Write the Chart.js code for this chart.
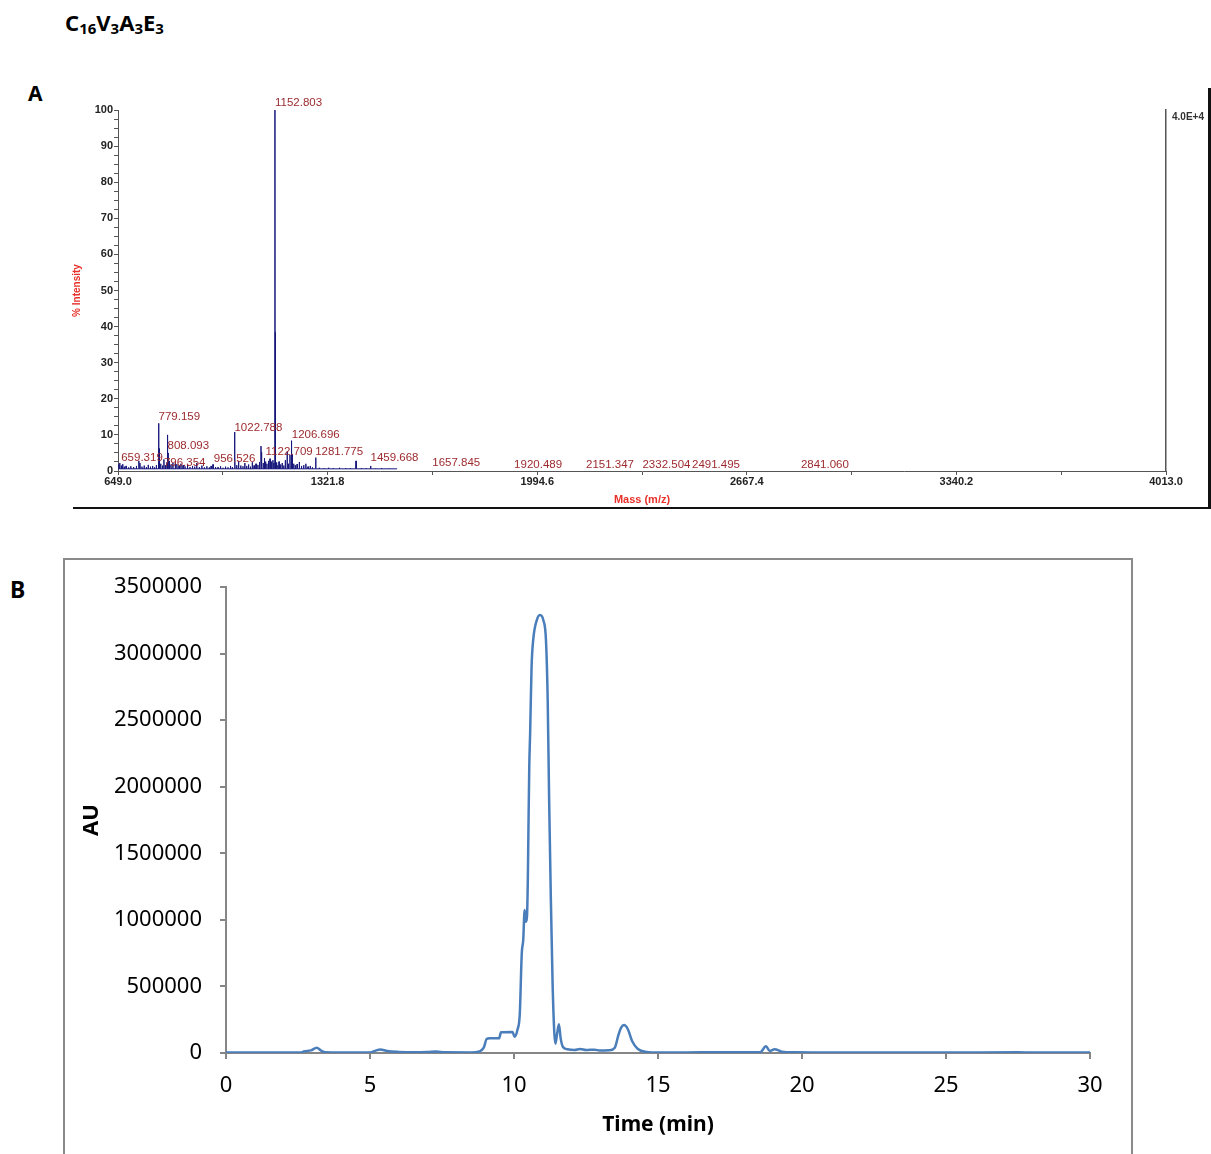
<!DOCTYPE html>
<html><head><meta charset="utf-8">
<script src="https://cdn.jsdelivr.net/npm/chart.js@4.4.1/dist/chart.umd.min.js"></script>
<style>
html,body{margin:0;padding:0;background:#fff;}
body{width:1211px;height:1154px;position:relative;overflow:hidden;font-family:'Noto Sans',sans-serif;}
.lbl{position:absolute;font-weight:bold;color:#000;line-height:1;white-space:nowrap;}
#title{left:65px;top:11px;font-size:22px;}
#title sub{font-size:15px;vertical-align:-3px;line-height:1;}
#labA{left:28px;top:83px;font-size:21px;}
#labB{left:10px;top:578px;font-size:23px;}
canvas{position:absolute;left:0;}
#cA{top:0;}
#cB{top:540px;}
.ln{position:absolute;}
</style>
</head><body>
<div class="lbl" id="title">C<sub>16</sub>V<sub>3</sub>A<sub>3</sub>E<sub>3</sub></div>
<div class="lbl" id="labA">A</div>
<div class="lbl" id="labB">B</div>
<canvas id="cA" width="1211" height="520"></canvas>
<canvas id="cB" width="1211" height="614"></canvas>
<div class="ln" style="left:73px;top:507px;width:1138px;height:2px;background:#111;"></div>
<div class="ln" style="left:1208px;top:88px;width:3px;height:421px;background:#111;"></div>
<div class="ln" style="left:63px;top:558px;width:1066px;height:620px;border:2px solid #8a8a8a;"></div>
<script>
// ---------- Panel A: MALDI mass spectrum ----------
const massTickLabels = ['649.0', '1321.8', '1994.6', '2667.4', '3340.2', '4013.0'];
const massTickValues = [649.0, 1321.8, 1994.6, 2667.4, 3340.2, 4013.0];
const intensityTicks = [0, 10, 20, 30, 40, 50, 60, 70, 80, 90, 100];

const peakMz = [652, 655, 660, 664, 669, 675, 683, 690, 699, 708, 716, 719.6, 726, 733, 740, 746, 753, 760, 766, 772,
  779.159, 781, 786, 792, 796.354, 801, 806, 808.093, 810, 814, 819, 825, 833, 838, 845, 851, 858, 864, 872, 880,
  888, 895, 901.6, 910, 918, 926, 934, 942, 948, 954, 962, 970, 978, 986, 994, 1002, 1010, 1016, 1022.788, 1024.5,
  1030, 1036, 1043, 1050, 1056, 1062, 1068, 1074, 1080, 1086, 1092, 1098, 1103, 1108, 1110, 1115, 1119, 1122.709,
  1127, 1132, 1137, 1141, 1146, 1149, 1152.803, 1154.2, 1158, 1162, 1166, 1171, 1176, 1181, 1186, 1192, 1196, 1201,
  1205, 1206.696, 1208.6, 1213, 1218, 1224, 1231, 1238, 1245, 1252, 1259, 1266, 1273, 1283.7, 1295, 1310, 1325,
  1340, 1360, 1380, 1395, 1413, 1430, 1445, 1460, 1475, 1495, 1520];
const peakInt = [1.8, 2.2, 1.5, 1.9, 1.2, 1.4, 1.0, 1.3, 1.1, 1.4, 2.8, 2.2, 1.2, 1.5, 1.1, 1.7, 1.2, 1.4, 1.0, 1.6,
  13.2, 6.2, 2.0, 1.5, 3.2, 1.6, 2.4, 10.0, 5.0, 2.8, 1.8, 2.2, 2.6, 1.9, 1.5, 2.0, 1.6, 1.3, 1.7, 1.1,
  1.4, 1.2, 2.2, 1.1, 1.5, 1.0, 1.3, 1.0, 1.4, 1.8, 1.1, 1.0, 1.3, 0.9, 1.2, 1.0, 1.4, 1.1, 10.8, 4.0,
  1.6, 2.8, 1.5, 1.3, 2.2, 1.4, 1.8, 1.2, 2.4, 1.5, 2.0, 1.7, 2.5, 6.9, 5.2, 2.2, 3.6, 2.6,
  2.0, 2.8, 3.4, 2.6, 3.0, 2.2, 100, 38.4, 2.4, 1.6, 2.6, 1.8, 2.2, 1.5, 3.0, 5.4, 2.0, 4.5,
  3.0, 8.4, 4.6, 2.0, 1.6, 1.9, 2.5, 1.4, 1.6, 2.0, 1.2, 1.4, 1.0, 3.7, 0.9, 0.8, 0.9,
  0.8, 0.9, 0.8, 0.8, 2.8, 0.8, 0.8, 1.4, 0.7, 0.8, 0.7];
const baselineInt = 0.6;
const spectrumStart = 649;
const spectrumEnd = 1545;

const labelMz = [659.319, 779.159, 796.354, 808.093, 956.526, 1022.788, 1122.709, 1152.803, 1206.696, 1281.775,
  1459.668, 1657.845, 1920.489, 2151.347, 2332.504, 2491.495, 2841.060];
const labelLevel = [2.8, 14.1, 1.4, 6.1, 2.5, 11.1, 4.4, 101.1, 9.1, 4.4, 2.8, 1.4, 0.8, 0.8, 0.8, 0.8, 0.8];

// ---------- Panel B: HPLC chromatogram ----------
const timeTicks = [0, 5, 10, 15, 20, 25, 30];
const auTicks = [0, 500000, 1000000, 1500000, 2000000, 2500000, 3000000, 3500000];
const timeMin = [0, 2.6, 2.7, 2.95, 3.15, 3.3, 3.45, 4.0, 5.0, 5.2, 5.35, 5.6, 6.0, 6.5, 7.0, 7.3, 7.6, 8.5, 8.8,
  8.95, 9.05, 9.15, 9.48, 9.55, 9.95, 10.02, 10.12, 10.2, 10.27, 10.32, 10.37, 10.41, 10.45, 10.48, 10.5, 10.53,
  10.56, 10.61, 10.67, 10.79, 10.9, 11.02, 11.11, 11.17, 11.22, 11.28, 11.34, 11.4, 11.44, 11.5, 11.56, 11.62,
  11.7, 11.85, 12.1, 12.3, 12.5, 12.8, 13.0, 13.3, 13.5, 13.62, 13.72, 13.82, 13.95, 14.1, 14.3, 14.6, 15.0,
  16.0, 17.0, 18.0, 18.55, 18.75, 18.88, 19.05, 19.3, 19.8, 21, 25, 27.5, 28, 30];
const au = [3000, 3000, 12000, 20000, 40000, 18000, 5000, 3000, 4000, 18000, 27000, 15000, 8000, 5000, 7000, 11000,
  5000, 4000, 12000, 40000, 105000, 110000, 110000, 155000, 158000, 122000, 175000, 290000, 748000, 848000,
  1074000, 986000, 1023000, 1300000, 1650000, 2150000, 2400000, 2900000, 3110000, 3250000, 3290000, 3250000,
  3100000, 2650000, 1900000, 1150000, 525000, 150000, 70000, 150000, 215000, 110000, 45000, 28000, 22000,
  30000, 22000, 25000, 18000, 20000, 40000, 130000, 190000, 210000, 180000, 90000, 30000, 8000, 4000,
  4000, 6000, 5000, 6000, 50000, 15000, 28000, 10000, 5000, 3000, 3000, 5000, 3000, 3000];

// build stick spectrum from the peak lists
const half = 0.5;
const specPoints = [{x: spectrumStart, y: baselineInt}];
peakMz.forEach((m, i) => {
  specPoints.push({x: m - half, y: baselineInt}, {x: m, y: peakInt[i]}, {x: m + half, y: baselineInt});
});
specPoints.push({x: spectrumEnd, y: baselineInt});

// tick positions: majors from the labels plus the minor halfway ticks
const massAllTicks = [];
massTickValues.forEach((v, i) => {
  massAllTicks.push(v);
  if (i < massTickValues.length - 1) massAllTicks.push((v + massTickValues[i + 1]) / 2);
});
const intAllTicks = [];
intensityTicks.forEach((v, i) => {
  intAllTicks.push(v);
  if (i < intensityTicks.length - 1) { intAllTicks.push(v + 2.5, v + 5, v + 7.5); }
});

const labelPlugin = {
  id: 'peakLabels',
  afterDatasetsDraw(chart) {
    const {ctx, scales: {x, y}} = chart;
    ctx.save();
    ctx.font = '11.5px "Liberation Sans", Arial, sans-serif';
    ctx.fillStyle = '#9c2a2e';
    ctx.textAlign = 'left';
    ctx.textBaseline = 'alphabetic';
    labelMz.forEach((m, i) => {
      ctx.fillText(m.toFixed(3), x.getPixelForValue(m), y.getPixelForValue(labelLevel[i]));
    });
    ctx.font = 'bold 10px "Liberation Sans", Arial, sans-serif';
    ctx.fillStyle = '#333';
    ctx.textBaseline = 'middle';
    ctx.fillText('4.0E+4', chart.chartArea.right + 6, chart.chartArea.top + 7);
    ctx.restore();
  }
};

const axisFontA = {family: '"Liberation Sans", Arial, sans-serif', size: 11, weight: 'bold'};
new Chart(document.getElementById('cA'), {
  type: 'line',
  data: {datasets: [{data: specPoints, borderColor: '#16167c', borderWidth: 1, pointRadius: 0, tension: 0}]},
  options: {
    responsive: false, animation: false, devicePixelRatio: 1,
    layout: {padding: {left: 0, right: 45, top: 110, bottom: 0}},
    plugins: {legend: {display: false}, tooltip: {enabled: false}},
    scales: {
      x: {
        type: 'linear', min: 649, max: 4013,
        afterBuildTicks: s => { s.ticks = massAllTicks.map(v => ({value: v})); },
        afterFit: s => { s.height = 49; },
        ticks: {autoSkip: false, maxRotation: 0, padding: 0, color: '#222', font: axisFontA,
          callback: (v, i) => (i % 2 === 0 ? massTickLabels[i / 2] : '')},
        grid: {drawOnChartArea: false, drawTicks: true, tickLength: 4, color: '#555'},
        border: {color: '#555', width: 1},
        title: {display: true, text: 'Mass (m/z)', color: '#e8312a', font: axisFontA, padding: {top: 0, bottom: 13}}
      },
      y: {
        min: 0, max: 100,
        afterBuildTicks: s => { s.ticks = intAllTicks.map(v => ({value: v})); },
        afterFit: s => { s.width = 118; },
        ticks: {autoSkip: false, padding: 1, color: '#222', font: axisFontA,
          callback: v => (intensityTicks.includes(v) ? String(v) : '')},
        grid: {drawOnChartArea: false, drawTicks: true, tickLength: 4, color: '#555'},
        border: {color: '#555', width: 1},
        title: {display: true, text: '% Intensity', color: '#e8312a',
          font: {family: '"Liberation Sans", Arial, sans-serif', size: 10, weight: 'bold'}, padding: {top: 71, bottom: 0}}
      },
      y2: {
        position: 'right', min: 0, max: 100,
        afterFit: s => { s.width = 0; },
        ticks: {display: false},
        grid: {display: false, drawTicks: false},
        border: {color: '#555', width: 1.5}
      }
    }
  },
  plugins: [labelPlugin]
});

const fontB = {family: '"Noto Sans", sans-serif', size: 22};
new Chart(document.getElementById('cB'), {
  type: 'line',
  data: {datasets: [{data: timeMin.map((t, i) => ({x: t, y: au[i]})), borderColor: '#4a7ebb', borderWidth: 2.5,
    pointRadius: 0, cubicInterpolationMode: 'monotone'}]},
  options: {
    responsive: false, animation: false, devicePixelRatio: 1,
    layout: {padding: {left: 0, right: 121, top: 47, bottom: 0}},
    plugins: {legend: {display: false}, tooltip: {enabled: false}},
    scales: {
      x: {
        type: 'linear', min: 0, max: 30,
        afterBuildTicks: s => { s.ticks = timeTicks.map(v => ({value: v})); },
        afterFit: s => { s.height = 101; },
        ticks: {autoSkip: false, maxRotation: 0, padding: 14, color: '#000', font: fontB,
          callback: (v, i) => String(timeTicks[i])},
        grid: {drawOnChartArea: false, drawTicks: true, tickLength: 6, color: '#868686', lineWidth: 2},
        border: {color: '#868686', width: 2},
        title: {display: true, text: 'Time (min)', color: '#000',
          font: {family: '"Noto Sans", sans-serif', size: 21, weight: 'bold'}, padding: {top: 0, bottom: 16}}
      },
      y: {
        min: 0, max: 3500000,
        afterBuildTicks: s => { s.ticks = auTicks.map(v => ({value: v})); },
        afterFit: s => { s.width = 226; },
        ticks: {autoSkip: false, padding: 18, color: '#000', font: fontB,
          callback: (v, i) => String(auTicks[i])},
        grid: {drawOnChartArea: false, drawTicks: true, tickLength: 6, color: '#868686', lineWidth: 2},
        border: {color: '#868686', width: 2},
        title: {display: true, text: 'AU', color: '#000',
          font: {family: '"Noto Sans", sans-serif', size: 22, weight: 'bold'}, padding: {top: 79, bottom: 0}}
      }
    }
  }
});
</script>
</body></html>
